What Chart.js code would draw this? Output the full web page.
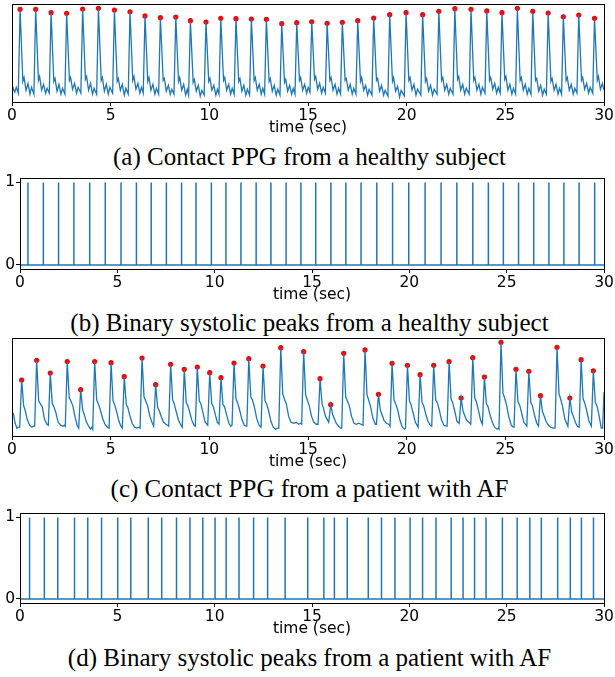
<!DOCTYPE html>
<html>
<head>
<meta charset="utf-8">
<script src="https://cdn.jsdelivr.net/npm/chart.js@4.4.1/dist/chart.umd.min.js"></script>
<style>
  html, body { margin: 0; padding: 0; background: #fff; }
  #page { position: relative; width: 615px; height: 677px; overflow: hidden; }
  canvas { position: absolute; left: 0; }
  .caption {
    position: absolute; left: 2px; width: 615px; text-align: center;
    font-family: "Liberation Serif", "Times New Roman", serif; font-size: 25px;
    line-height: 24px; color: #000; white-space: nowrap;
  }
</style>
</head>
<body>
<div id="page">
  <canvas id="chartA" width="615" height="137" style="top:0px;width:615px;height:137px"></canvas>
  <div class="caption" id="capA" style="top:145px"></div>
  <canvas id="chartB" width="615" height="136" style="top:168px;width:615px;height:136px"></canvas>
  <div class="caption" id="capB" style="top:311px"></div>
  <canvas id="chartC" width="615" height="137" style="top:334px;width:615px;height:137px"></canvas>
  <div class="caption" id="capC" style="top:477px"></div>
  <canvas id="chartD" width="615" height="135" style="top:503px;width:615px;height:135px"></canvas>
  <div class="caption" id="capD" style="top:646px"></div>
</div>
<script>
// ---- data ----
const timeTicks = [0, 5, 10, 15, 20, 25, 30];
const xLabel = 'time (sec)';
const captions = [
  '(a) Contact PPG from a healthy subject',
  '(b) Binary systolic peaks from a healthy subject',
  '(c) Contact PPG from a patient with AF',
  '(d) Binary systolic peaks from a patient with AF'
];

// healthy subject: systolic peak times (sec) and heights
const healthyPeakTime = [0.41, 1.20, 1.98, 2.77, 3.58, 4.38, 5.19, 5.98, 6.74, 7.52,
  8.30, 9.04, 9.83, 10.58, 11.35, 12.13, 12.89, 13.67, 14.43, 15.19,
  15.97, 16.74, 17.52, 18.33, 19.14, 19.97, 20.81, 21.63, 22.44, 23.26,
  24.06, 24.83, 25.61, 26.39, 27.17, 27.94, 28.72, 29.52];
const healthyPeakValue = [0.946, 0.946, 0.911, 0.905, 0.949, 0.956, 0.939, 0.921, 0.878, 0.860,
  0.867, 0.830, 0.816, 0.854, 0.850, 0.847, 0.844, 0.799, 0.809, 0.819,
  0.803, 0.813, 0.830, 0.857, 0.891, 0.911, 0.891, 0.925, 0.952, 0.946,
  0.929, 0.911, 0.956, 0.925, 0.908, 0.870, 0.888, 0.854];

// healthy subject: PPG waveform samples
const healthyTime = [
  0.00, 0.06, 0.14, 0.22,
  0.32, 0.41, 0.55, 0.61, 0.71, 0.81, 0.91, 0.99,
  1.11, 1.20, 1.34, 1.40, 1.50, 1.60, 1.70, 1.78,
  1.89, 1.98, 2.12, 2.18, 2.28, 2.38, 2.48, 2.56,
  2.68, 2.77, 2.91, 2.97, 3.07, 3.17, 3.27, 3.35,
  3.49, 3.58, 3.72, 3.78, 3.88, 3.98, 4.08, 4.16,
  4.29, 4.38, 4.52, 4.58, 4.68, 4.78, 4.88, 4.96,
  5.10, 5.19, 5.33, 5.39, 5.49, 5.59, 5.69, 5.77,
  5.89, 5.98, 6.12, 6.18, 6.28, 6.38, 6.48, 6.56,
  6.65, 6.74, 6.88, 6.94, 7.04, 7.14, 7.24, 7.32,
  7.43, 7.52, 7.66, 7.72, 7.82, 7.92, 8.02, 8.10,
  8.21, 8.30, 8.44, 8.50, 8.60, 8.70, 8.80, 8.88,
  8.95, 9.04, 9.18, 9.24, 9.34, 9.44, 9.54, 9.62,
  9.74, 9.83, 9.97, 10.03, 10.13, 10.23, 10.33, 10.41,
  10.49, 10.58, 10.72, 10.78, 10.88, 10.98, 11.08, 11.16,
  11.26, 11.35, 11.49, 11.55, 11.65, 11.75, 11.85, 11.93,
  12.04, 12.13, 12.27, 12.33, 12.43, 12.53, 12.63, 12.71,
  12.80, 12.89, 13.03, 13.09, 13.19, 13.29, 13.39, 13.47,
  13.58, 13.67, 13.81, 13.87, 13.97, 14.07, 14.17, 14.25,
  14.34, 14.43, 14.57, 14.63, 14.73, 14.83, 14.93, 15.01,
  15.10, 15.19, 15.33, 15.39, 15.49, 15.59, 15.69, 15.77,
  15.88, 15.97, 16.11, 16.17, 16.27, 16.37, 16.47, 16.55,
  16.65, 16.74, 16.88, 16.94, 17.04, 17.14, 17.24, 17.32,
  17.43, 17.52, 17.66, 17.72, 17.82, 17.92, 18.02, 18.10,
  18.24, 18.33, 18.47, 18.53, 18.63, 18.73, 18.83, 18.91,
  19.05, 19.14, 19.28, 19.34, 19.44, 19.54, 19.64, 19.72,
  19.88, 19.97, 20.11, 20.17, 20.27, 20.37, 20.47, 20.55,
  20.72, 20.81, 20.95, 21.01, 21.11, 21.21, 21.31, 21.39,
  21.54, 21.63, 21.77, 21.83, 21.93, 22.03, 22.13, 22.21,
  22.35, 22.44, 22.58, 22.64, 22.74, 22.84, 22.94, 23.02,
  23.17, 23.26, 23.40, 23.46, 23.56, 23.66, 23.76, 23.84,
  23.97, 24.06, 24.20, 24.26, 24.36, 24.46, 24.56, 24.64,
  24.74, 24.83, 24.97, 25.03, 25.13, 25.23, 25.33, 25.41,
  25.52, 25.61, 25.75, 25.81, 25.91, 26.01, 26.11, 26.19,
  26.30, 26.39, 26.53, 26.59, 26.69, 26.79, 26.89, 26.97,
  27.08, 27.17, 27.31, 27.37, 27.47, 27.57, 27.67, 27.75,
  27.85, 27.94, 28.08, 28.14, 28.24, 28.34, 28.44, 28.52,
  28.63, 28.72, 28.86, 28.92, 29.02, 29.12, 29.22, 29.30,
  29.43, 29.52, 29.66, 29.72, 29.82, 29.92, 30.00
];
const healthyValue = [
  0.10, 0.14, 0.10, 0.15,
  0.09, 0.946, 0.21, 0.25, 0.12, 0.19, 0.08, 0.15,
  0.08, 0.946, 0.22, 0.26, 0.12, 0.18, 0.09, 0.14,
  0.09, 0.911, 0.21, 0.24, 0.11, 0.18, 0.08, 0.14,
  0.08, 0.905, 0.22, 0.25, 0.13, 0.19, 0.09, 0.15,
  0.09, 0.949, 0.23, 0.26, 0.12, 0.19, 0.08, 0.14,
  0.08, 0.956, 0.22, 0.25, 0.11, 0.18, 0.08, 0.15,
  0.09, 0.939, 0.21, 0.24, 0.12, 0.18, 0.07, 0.14,
  0.08, 0.921, 0.22, 0.26, 0.13, 0.19, 0.09, 0.15,
  0.09, 0.878, 0.21, 0.25, 0.12, 0.18, 0.08, 0.14,
  0.08, 0.860, 0.22, 0.24, 0.11, 0.17, 0.08, 0.13,
  0.08, 0.867, 0.21, 0.25, 0.12, 0.18, 0.07, 0.13,
  0.07, 0.830, 0.20, 0.23, 0.11, 0.17, 0.06, 0.12,
  0.07, 0.816, 0.21, 0.24, 0.12, 0.17, 0.07, 0.13,
  0.08, 0.854, 0.22, 0.25, 0.12, 0.18, 0.08, 0.14,
  0.08, 0.850, 0.21, 0.24, 0.11, 0.17, 0.07, 0.13,
  0.07, 0.847, 0.22, 0.25, 0.12, 0.18, 0.08, 0.14,
  0.08, 0.844, 0.21, 0.24, 0.11, 0.17, 0.07, 0.13,
  0.07, 0.799, 0.20, 0.23, 0.11, 0.17, 0.08, 0.14,
  0.08, 0.809, 0.22, 0.25, 0.12, 0.18, 0.09, 0.15,
  0.10, 0.819, 0.23, 0.26, 0.13, 0.19, 0.09, 0.15,
  0.09, 0.803, 0.22, 0.25, 0.12, 0.18, 0.08, 0.14,
  0.08, 0.813, 0.22, 0.24, 0.12, 0.18, 0.08, 0.14,
  0.08, 0.830, 0.21, 0.25, 0.12, 0.17, 0.07, 0.13,
  0.07, 0.857, 0.22, 0.24, 0.11, 0.17, 0.07, 0.12,
  0.06, 0.891, 0.21, 0.25, 0.11, 0.16, 0.05, 0.12,
  0.06, 0.911, 0.22, 0.25, 0.12, 0.18, 0.07, 0.13,
  0.07, 0.891, 0.21, 0.24, 0.11, 0.17, 0.07, 0.13,
  0.08, 0.925, 0.22, 0.25, 0.12, 0.18, 0.08, 0.14,
  0.08, 0.952, 0.23, 0.26, 0.12, 0.18, 0.08, 0.14,
  0.08, 0.946, 0.22, 0.25, 0.12, 0.18, 0.08, 0.15,
  0.09, 0.929, 0.22, 0.25, 0.13, 0.19, 0.09, 0.15,
  0.09, 0.911, 0.23, 0.26, 0.12, 0.18, 0.08, 0.14,
  0.08, 0.956, 0.22, 0.25, 0.12, 0.18, 0.08, 0.14,
  0.08, 0.925, 0.22, 0.24, 0.11, 0.17, 0.07, 0.13,
  0.08, 0.908, 0.21, 0.24, 0.12, 0.18, 0.08, 0.14,
  0.08, 0.870, 0.22, 0.25, 0.12, 0.18, 0.08, 0.14,
  0.09, 0.888, 0.22, 0.25, 0.13, 0.19, 0.09, 0.15,
  0.09, 0.854, 0.22, 0.26, 0.13, 0.19, 0.12
];

// AF patient: systolic peak times (sec) and heights
const afPeakTime = [0.49, 1.25, 1.94, 2.80, 3.48, 4.19, 5.02, 5.69, 6.59, 7.28,
  8.04, 8.73, 9.39, 10.02, 10.59, 11.25, 12.00, 12.72, 13.62, 14.78,
  15.61, 16.15, 16.81, 17.89, 18.57, 19.26, 20.04, 20.68, 21.37, 22.15,
  22.76, 23.35, 23.94, 24.78, 25.54, 26.19, 26.78, 27.62, 28.27, 28.84, 29.46];
const afPeakValue = [0.571, 0.772, 0.643, 0.759, 0.473, 0.759, 0.748, 0.605, 0.796, 0.524,
  0.731, 0.680, 0.704, 0.646, 0.595, 0.745, 0.789, 0.714, 0.901, 0.860,
  0.585, 0.320, 0.844, 0.878, 0.425, 0.742, 0.721, 0.626, 0.721, 0.758,
  0.388, 0.799, 0.602, 0.956, 0.681, 0.660, 0.411, 0.905, 0.388, 0.779, 0.666];

// AF patient: PPG waveform samples
const afTime = [
  0.00, 0.08, 0.16, 0.25, 0.32,
  0.39, 0.49, 0.59, 0.67, 0.77, 0.89, 1.01, 1.08,
  1.15, 1.25, 1.35, 1.43, 1.53, 1.65, 1.77,
  1.84, 1.94, 2.04, 2.12, 2.22, 2.34, 2.46, 2.58, 2.66,
  2.70, 2.80, 2.90, 2.98, 3.08, 3.20, 3.30,
  3.38, 3.48, 3.58, 3.66, 3.76, 3.88, 3.98, 4.05,
  4.09, 4.19, 4.29, 4.37, 4.47, 4.59, 4.71, 4.83,
  4.92, 5.02, 5.12, 5.20, 5.30, 5.42, 5.52,
  5.59, 5.69, 5.79, 5.87, 5.97, 6.09, 6.21, 6.33, 6.43,
  6.49, 6.59, 6.69, 6.77, 6.87, 6.99, 7.11,
  7.18, 7.28, 7.38, 7.46, 7.56, 7.68, 7.80, 7.88,
  7.94, 8.04, 8.14, 8.22, 8.32, 8.44, 8.56,
  8.63, 8.73, 8.83, 8.91, 9.01, 9.13, 9.23,
  9.29, 9.39, 9.49, 9.57, 9.67, 9.79,
  9.92, 10.02, 10.12, 10.20, 10.30, 10.40,
  10.49, 10.59, 10.69, 10.77, 10.87, 10.99, 11.09,
  11.15, 11.25, 11.35, 11.43, 11.53, 11.65, 11.77, 11.85,
  11.90, 12.00, 12.10, 12.18, 12.28, 12.40, 12.52,
  12.62, 12.72, 12.82, 12.90, 13.00, 13.12, 13.24, 13.36, 13.46,
  13.52, 13.62, 13.72, 13.80, 13.90, 14.02, 14.14, 14.28, 14.40, 14.52, 14.62,
  14.68, 14.78, 14.88, 14.96, 15.06, 15.18, 15.30, 15.42,
  15.51, 15.61, 15.71, 15.79, 15.89,
  16.05, 16.15, 16.25, 16.33, 16.43, 16.55, 16.65,
  16.71, 16.81, 16.91, 16.99, 17.09, 17.21, 17.33, 17.45, 17.57, 17.69,
  17.79, 17.89, 17.99, 18.07, 18.17, 18.29, 18.41,
  18.47, 18.57, 18.67, 18.75, 18.85, 18.97, 19.09,
  19.16, 19.26, 19.36, 19.44, 19.54, 19.66, 19.78, 19.88,
  19.94, 20.04, 20.14, 20.22, 20.32, 20.44,
  20.58, 20.68, 20.78, 20.86, 20.96, 21.08, 21.20,
  21.27, 21.37, 21.47, 21.55, 21.65, 21.77, 21.89, 21.99,
  22.05, 22.15, 22.25, 22.33, 22.43, 22.55,
  22.66, 22.76, 22.86, 22.94, 23.04, 23.16,
  23.25, 23.35, 23.45, 23.53, 23.63, 23.75,
  23.84, 23.94, 24.04, 24.12, 24.22, 24.34, 24.46, 24.58, 24.64,
  24.68, 24.78, 24.88, 24.96, 25.06, 25.18, 25.30, 25.40,
  25.44, 25.54, 25.64, 25.72, 25.82, 25.94,
  26.09, 26.19, 26.29, 26.37, 26.47, 26.59,
  26.68, 26.78, 26.88, 26.96, 27.06, 27.18, 27.30, 27.42,
  27.52, 27.62, 27.72, 27.80, 27.90, 28.02,
  28.17, 28.27, 28.37, 28.45, 28.55, 28.65,
  28.74, 28.84, 28.94, 29.02, 29.12, 29.24,
  29.36, 29.46, 29.56, 29.64, 29.74, 29.86, 29.93, 30.00
];
const afValue = [
  0.25, 0.22, 0.13, 0.08, 0.09,
  0.09, 0.571, 0.31, 0.26, 0.17, 0.11, 0.09, 0.10,
  0.10, 0.772, 0.36, 0.33, 0.30, 0.17, 0.12,
  0.11, 0.643, 0.33, 0.30, 0.24, 0.14, 0.11, 0.10, 0.11,
  0.10, 0.759, 0.39, 0.36, 0.31, 0.19, 0.11,
  0.08, 0.473, 0.27, 0.22, 0.15, 0.10, 0.07, 0.09,
  0.07, 0.759, 0.37, 0.33, 0.27, 0.18, 0.12, 0.09,
  0.08, 0.748, 0.36, 0.32, 0.25, 0.15, 0.10,
  0.08, 0.605, 0.32, 0.29, 0.21, 0.13, 0.09, 0.08, 0.09,
  0.08, 0.796, 0.40, 0.36, 0.31, 0.20, 0.13,
  0.10, 0.524, 0.29, 0.26, 0.20, 0.14, 0.12, 0.11,
  0.10, 0.731, 0.37, 0.33, 0.25, 0.16, 0.11,
  0.09, 0.680, 0.34, 0.31, 0.24, 0.15, 0.11,
  0.10, 0.704, 0.36, 0.33, 0.24, 0.14,
  0.11, 0.646, 0.33, 0.30, 0.22, 0.14,
  0.12, 0.595, 0.32, 0.30, 0.22, 0.13, 0.10,
  0.11, 0.745, 0.38, 0.34, 0.27, 0.17, 0.11, 0.10,
  0.10, 0.789, 0.40, 0.37, 0.30, 0.18, 0.11,
  0.09, 0.714, 0.36, 0.33, 0.26, 0.15, 0.09, 0.07, 0.08,
  0.08, 0.901, 0.43, 0.38, 0.33, 0.20, 0.14, 0.13, 0.14, 0.12, 0.13,
  0.12, 0.860, 0.42, 0.37, 0.31, 0.20, 0.14, 0.12,
  0.12, 0.585, 0.33, 0.28, 0.20,
  0.14, 0.320, 0.22, 0.18, 0.13, 0.10, 0.08,
  0.08, 0.844, 0.40, 0.36, 0.31, 0.20, 0.13, 0.12, 0.13, 0.12,
  0.11, 0.878, 0.42, 0.37, 0.30, 0.18, 0.12,
  0.12, 0.425, 0.26, 0.22, 0.16, 0.13, 0.12,
  0.10, 0.742, 0.37, 0.33, 0.27, 0.16, 0.09, 0.07,
  0.08, 0.721, 0.36, 0.32, 0.24, 0.14,
  0.09, 0.626, 0.34, 0.31, 0.23, 0.15, 0.11,
  0.10, 0.721, 0.37, 0.34, 0.27, 0.16, 0.11, 0.10,
  0.10, 0.758, 0.38, 0.34, 0.26, 0.15,
  0.13, 0.388, 0.25, 0.21, 0.16, 0.14,
  0.12, 0.799, 0.39, 0.35, 0.27, 0.16,
  0.12, 0.602, 0.33, 0.30, 0.22, 0.14, 0.09, 0.07, 0.08,
  0.07, 0.956, 0.44, 0.39, 0.32, 0.19, 0.11, 0.09,
  0.09, 0.681, 0.35, 0.32, 0.24, 0.14,
  0.10, 0.660, 0.34, 0.31, 0.22, 0.13,
  0.10, 0.411, 0.25, 0.21, 0.15, 0.11, 0.09, 0.08,
  0.08, 0.905, 0.43, 0.38, 0.30, 0.17,
  0.10, 0.388, 0.24, 0.20, 0.14, 0.10,
  0.09, 0.779, 0.38, 0.34, 0.26, 0.15,
  0.10, 0.666, 0.34, 0.31, 0.22, 0.08, 0.08, 0.45
];

// ---- drawing ----
const BLUE = '#1f77b4';
const TICK_FONT = { family: 'DejaVu Sans', size: 15.5 };

function points(xs, ys) {
    return xs.map((x, i) => ({ x: x, y: ys[i] }));
}

// binary signal: 0 everywhere, 1 at each detected peak
function binarySignal(peakTime) {
    const pts = [{ x: 0, y: 0 }];
    peakTime.forEach(t => {
        pts.push({ x: t, y: 0 }, { x: t, y: 1 }, { x: t, y: 0 });
    });
    pts.push({ x: 30, y: 0 });
    return pts;
}

// matplotlib style box around the axes
const frame = {
    id: 'frame',
    afterDatasetsDraw(chart) {
        const a = chart.chartArea;
        const ctx = chart.ctx;
        ctx.save();
        ctx.strokeStyle = '#000';
        ctx.lineWidth = 1;
        ctx.strokeRect(Math.round(a.left) + 0.5, Math.round(a.top) + 0.5,
            Math.round(a.right - a.left), Math.round(a.bottom - a.top));
        ctx.restore();
    }
};

function xScale() {
    return {
        type: 'linear',
        min: 0,
        max: 30,
        offset: false,
        afterBuildTicks: s => { s.ticks = timeTicks.map(v => ({ value: v })); },
        afterFit: s => { s.height = 35; },
        grid: { display: true, offset: false, drawOnChartArea: false, drawTicks: true, tickLength: 4, color: '#000' },
        border: { display: false },
        ticks: { color: '#000', font: TICK_FONT, padding: 1, maxRotation: 0 },
        title: { display: true, text: xLabel, color: '#000', font: TICK_FONT, padding: 0 }
    };
}

function ppgChart(id, time, value, peakTime, peakValue) {
    const config = {
        type: 'line',
        data: {
            datasets: [{
                data: points(time, value),
                borderColor: BLUE,
                borderWidth: 1.3,
                pointRadius: 0,
                tension: 0
            }, {
                type: 'scatter',
                data: points(peakTime, peakValue),
                backgroundColor: '#ff0000',
                borderWidth: 0,
                pointRadius: 2.6
            }]
        },
        options: {
            responsive: false,
            animation: false,
            layout: { padding: { left: 12, right: 11, top: 4, bottom: 0 } },
            plugins: { legend: { display: false }, tooltip: { enabled: false } },
            scales: {
                x: xScale(),
                y: { display: false, min: 0, max: 1 }
            }
        },
        plugins: [frame]
    };
    new Chart(document.getElementById(id), config);
}

function binaryChart(id, peakTime) {
    const config = {
        type: 'line',
        data: {
            datasets: [{
                data: binarySignal(peakTime),
                borderColor: BLUE,
                borderWidth: 1.5,
                pointRadius: 0,
                tension: 0
            }]
        },
        options: {
            responsive: false,
            animation: false,
            layout: { padding: { left: 0, right: 11, top: 4, bottom: 0 } },
            plugins: { legend: { display: false }, tooltip: { enabled: false } },
            scales: {
                x: xScale(),
                y: {
                    min: -0.05,
                    max: 1.05,
                    afterBuildTicks: s => { s.ticks = [{ value: 0 }, { value: 1 }]; },
                    afterFit: s => { s.width = 20; },
                    grid: { display: true, drawOnChartArea: false, drawTicks: true, tickLength: 4, color: '#000' },
                    border: { display: false },
                    ticks: { color: '#000', font: TICK_FONT, padding: 1 }
                }
            }
        },
        plugins: [frame]
    };
    new Chart(document.getElementById(id), config);
}

['capA', 'capB', 'capC', 'capD'].forEach((id, i) => {
    document.getElementById(id).textContent = captions[i];
});

ppgChart('chartA', healthyTime, healthyValue, healthyPeakTime, healthyPeakValue);
binaryChart('chartB', healthyPeakTime);
ppgChart('chartC', afTime, afValue, afPeakTime, afPeakValue);
binaryChart('chartD', afPeakTime);
</script>
</body>
</html>
